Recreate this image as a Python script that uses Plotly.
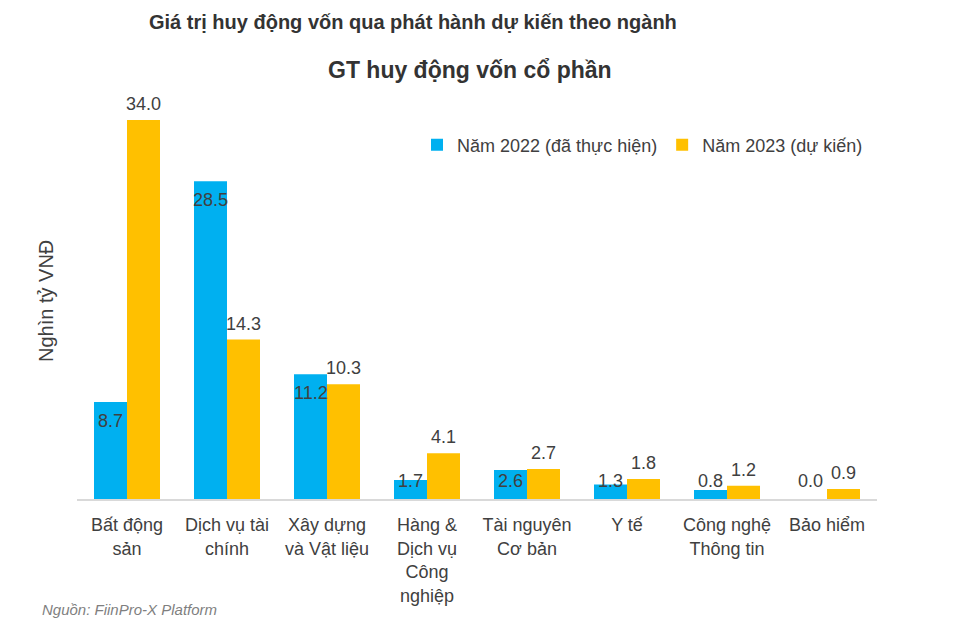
import plotly.graph_objects as go

categories = ["Bất động<br>sản", "Dịch vụ tài<br>chính", "Xây dựng<br>và Vật liệu",
              "Hàng &<br>Dịch vụ<br>Công<br>nghiệp", "Tài nguyên<br>Cơ bản", "Y tế",
              "Công nghệ<br>Thông tin", "Bảo hiểm"]
series_2022 = [8.7, 28.5, 11.2, 1.7, 2.6, 1.3, 0.8, 0.0]
series_2023 = [34.0, 14.3, 10.3, 4.1, 2.7, 1.8, 1.2, 0.9]
name_2022 = "Năm 2022 (đã thực hiện)"
name_2023 = "Năm 2023 (dự kiến)"

BLUE = "#00B0F0"
YELLOW = "#FFC000"
TXT = "#404040"
FONT = "Liberation Sans, Arial, sans-serif"

idx = list(range(len(categories)))

fig = go.Figure()
fig.add_trace(go.Bar(x=idx, y=series_2022, name=name_2022, marker_color=BLUE,
                     marker_line_width=0))
fig.add_trace(go.Bar(x=idx, y=series_2023, name=name_2023, marker_color=YELLOW,
                     marker_line_width=0))

bar_w = 0.33
annotations = []
for i, (a, b) in enumerate(zip(series_2022, series_2023)):
    annotations.append(dict(x=i - bar_w / 2, y=max(a - 1.7, 1.6), xref="x", yref="y",
                            text=f"{a:.1f}", showarrow=False, yanchor="middle",
                            font=dict(size=18, color=TXT, family=FONT)))
    annotations.append(dict(x=i + bar_w / 2, y=b, xref="x", yref="y",
                            text=f"{b:.1f}", showarrow=False, yanchor="bottom", yshift=4,
                            font=dict(size=18, color=TXT, family=FONT)))

# page offset (body margin) compensation
OFF = 8
W, H = 965, 625
L, T = 77 - OFF, 100 - OFF
R = W - (877 - OFF)
B = H - (499 - OFF)
pw, ph = W - L - R, H - T - B

def px(x):
    return (x - OFF - L) / pw

def py(y):
    return (H - (y - OFF) - B) / ph

annotations.append(dict(x=px(147), y=py(22), xref="paper", yref="paper",
                        text="<b>Giá trị huy động vốn qua phát hành dự kiến theo ngành</b>",
                        showarrow=False, xanchor="left", yanchor="middle",
                        font=dict(size=20, color="#333333", family=FONT)))
annotations.append(dict(x=px(470), y=py(70), xref="paper", yref="paper",
                        text="<b>GT huy động vốn cổ phần</b>",
                        showarrow=False, xanchor="center", yanchor="middle",
                        font=dict(size=23, color="#333333", family=FONT)))
annotations.append(dict(x=px(40), y=py(609), xref="paper", yref="paper",
                        text="<i>Nguồn: FiinPro-X Platform</i>",
                        showarrow=False, xanchor="left", yanchor="middle",
                        font=dict(size=15, color="#7F7F7F", family=FONT)))
annotations.append(dict(x=px(46), y=py(301), xref="paper", yref="paper",
                        text="Nghìn tỷ VNĐ", textangle=-90,
                        showarrow=False, xanchor="center", yanchor="middle",
                        font=dict(size=20, color=TXT, family=FONT)))

fig.update_layout(
    width=W, height=H,
    margin=dict(l=L, r=R, t=T, b=B, autoexpand=False),
    paper_bgcolor="white", plot_bgcolor="white",
    barmode="group", bargap=0.34, bargroupgap=0,
    font=dict(family=FONT, size=18, color=TXT),
    showlegend=True,
    legend=dict(orientation="h", xref="container", yref="container",
                x=(868 - OFF) / W, xanchor="right",
                y=1 - (145 - OFF) / H, yanchor="middle",
                font=dict(size=18, color=TXT, family=FONT),
                itemwidth=30, traceorder="normal",
                bgcolor="rgba(0,0,0,0)"),
    annotations=annotations,
    xaxis=dict(tickmode="array", tickvals=idx, ticktext=categories,
               range=[-0.5, len(categories) - 0.5],
               showline=True, linecolor="#D9D9D9", linewidth=1.5,
               ticks="", showgrid=False, zeroline=False,
               tickfont=dict(size=18, color=TXT, family=FONT),
               ticklabelstandoff=9),
    yaxis=dict(range=[0, 35.8], showticklabels=False, showgrid=False,
               zeroline=False, showline=False, ticks=""),
)

fig.write_html("out.html")
